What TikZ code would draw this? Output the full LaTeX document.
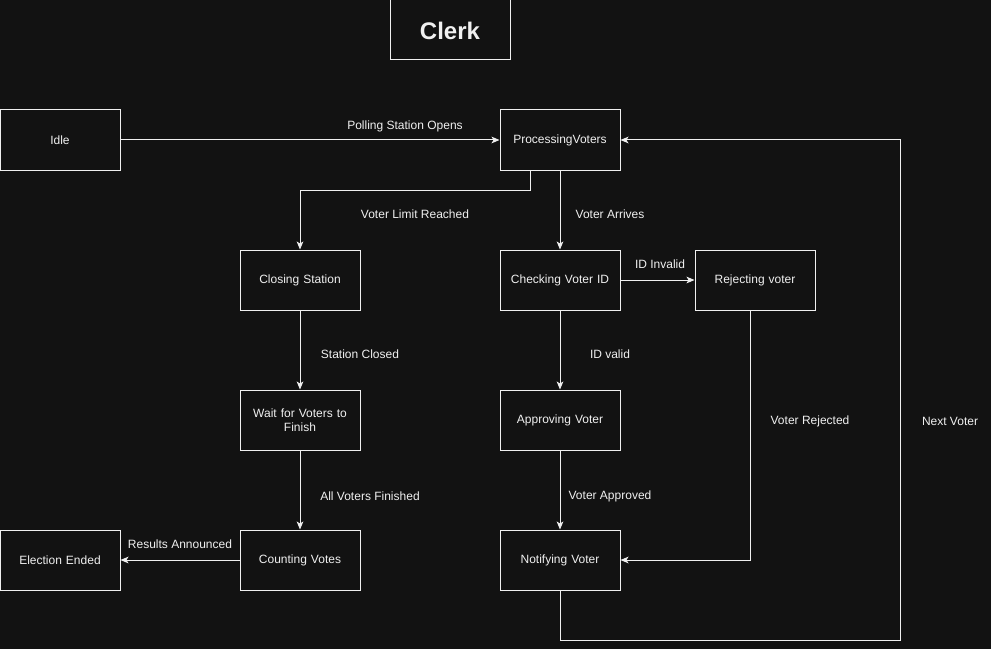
\documentclass[tikz,border=0pt]{standalone}
\usepackage{fontspec}
\setmainfont{Liberation Sans}
\usetikzlibrary{arrows.meta}
\definecolor{bg}{HTML}{121212}
\definecolor{fg}{HTML}{F0F0F0}
\begin{document}
\begin{tikzpicture}[x=0.75pt,y=-0.75pt,
  box/.style={draw=fg,fill=bg,line width=0.75pt,minimum width=90pt,minimum height=45pt,inner sep=0pt,text=fg,font=\fontsize{9}{10.5}\selectfont,align=center,text width=80pt},
  conn/.style={draw=fg,line width=0.75pt,-{Stealth[length=6pt,width=5pt,inset=1.5pt]}},
  lbl/.style={text=fg,font=\fontsize{9}{10.5}\selectfont,inner sep=0pt}]
\fill[bg] (0,0) rectangle (991,649);
\useasboundingbox (0,0) rectangle (991,649);
\node[box,minimum height=45pt] (clerk) at (450,30) {};
\node[text=fg,font=\bfseries\fontsize{18}{20}\selectfont,inner sep=0pt] (clerkt) at (450,31) {Clerk};
\node[box] (idle) at (60,140) {Idle};
\node[box] (proc) at (560,140) {ProcessingVoters};
\node[box] (close) at (300,280) {Closing Station};
\node[box] (check) at (560,280) {Checking Voter ID};
\node[box] (reject) at (755,280) {Rejecting voter};
\node[box] (wait) at (300,420) {Wait for Voters to\\Finish};
\node[box] (approve) at (560,420) {Approving Voter};
\node[box] (ended) at (60,560) {Election Ended};
\node[box] (count) at (300,560) {Counting Votes};
\node[box] (notify) at (560,560) {Notifying Voter};
\coordinate (c1) at (530,190);
\coordinate (c2) at (300,190);
\coordinate (c3) at (750,560);
\coordinate (c4) at (560,640);
\coordinate (c5) at (900,640);
\coordinate (c6) at (900,140);
\draw[conn] (idle) -- (proc);
\draw[conn] (proc.south -| c1) -- (c1) -- (c2) -- (close);
\draw[conn] (proc) -- (check);
\draw[conn] (check) -- (reject);
\draw[conn] (close) -- (wait);
\draw[conn] (check) -- (approve);
\draw[conn] (reject.south -| c3) -- (c3) -- (notify);
\draw[conn] (wait) -- (count);
\draw[conn] (approve) -- (notify);
\draw[conn] (count) -- (ended);
\draw[conn] (notify) -- (c4) -- (c5) -- (c6) -- (proc);
\node[lbl] (l1) at (405,126) {Polling Station Opens};
\node[lbl] (l2) at (415,214) {Voter Limit Reached};
\node[lbl] (l3) at (610,214) {Voter Arrives};
\node[lbl] (l4) at (660,264) {ID Invalid};
\node[lbl] (l5) at (360,354) {Station Closed};
\node[lbl] (l6) at (610,354) {ID valid};
\node[lbl] (l7) at (810,421) {Voter Rejected};
\node[lbl] (l8) at (370,496) {All Voters Finished};
\node[lbl] (l9) at (610,496) {Voter Approved};
\node[lbl] (l10) at (180,544) {Results Announced};
\node[lbl] (l11) at (950,421) {Next Voter};
\end{tikzpicture}
\end{document}
